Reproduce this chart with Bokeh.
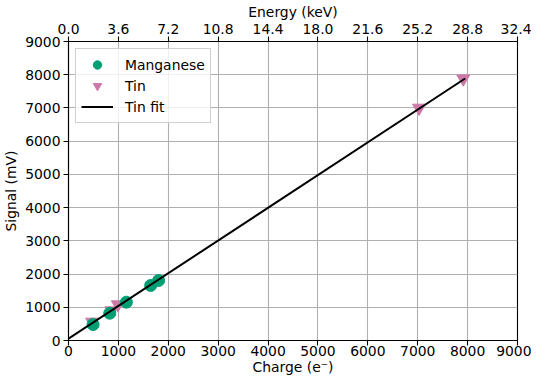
from bokeh.plotting import figure
from bokeh.models import LinearAxis, Range1d, FixedTicker, Legend, LegendItem
from bokeh.embed import file_html
from bokeh.resources import INLINE

# Data
mn_charge = [493, 827, 1160, 1647, 1807]
mn_signal = [480, 822, 1153, 1656, 1807]
sn_charge = [473, 860, 990, 7027, 7913]
sn_signal = [560, 900, 1080, 7000, 7880]
fit_slope = 0.985
fit_intercept = 55
fit_x = [0, 7950]
fit_y = [fit_slope * x + fit_intercept for x in fit_x]

x_ticks = list(range(0, 10000, 1000))
y_ticks = list(range(0, 10000, 1000))
ev_per_e = 3.6  # eV per electron
energy_labels = {t: f"{t * ev_per_e / 1000:.1f}" for t in x_ticks}

FONT = "DejaVu Sans"
FS = "13.9px"
TXT = "black"

p = figure(width=531, height=377, output_backend="svg", toolbar_location=None,
           x_range=Range1d(0, 9000), y_range=Range1d(0, 9000),
           min_border_left=67, min_border_right=14, min_border_top=41, min_border_bottom=37)
p.background_fill_color = "white"
p.border_fill_color = "white"
p.outline_line_color = "black"
p.outline_line_width = 1.1
p.outline_line_alpha = 1


def style_axis(ax, label, tick_out=5, lab_off=4, ax_off=4):
    ax.axis_label = label
    ax.axis_label_text_font = FONT
    ax.axis_label_text_font_size = FS
    ax.axis_label_text_font_style = "normal"
    ax.axis_label_text_color = TXT
    ax.major_label_text_font = FONT
    ax.major_label_text_font_size = FS
    ax.major_label_text_color = TXT
    ax.axis_line_color = "black"
    ax.axis_line_width = 1.1
    ax.major_tick_line_color = "black"
    ax.major_tick_line_width = 1.1
    ax.minor_tick_line_color = None
    ax.major_tick_out = tick_out
    ax.major_tick_in = 0
    ax.axis_label_standoff = ax_off
    ax.major_label_standoff = lab_off


style_axis(p.xaxis[0], "Charge (e⁻)", tick_out=5, lab_off=0, ax_off=0)
style_axis(p.yaxis[0], "Signal (mV)", tick_out=5, lab_off=3, ax_off=3)
p.xaxis[0].ticker = FixedTicker(ticks=x_ticks)
p.yaxis[0].ticker = FixedTicker(ticks=y_ticks)

top = LinearAxis(ticker=FixedTicker(ticks=x_ticks), major_label_overrides=energy_labels)
style_axis(top, "Energy (keV)", tick_out=5, lab_off=3, ax_off=1)
p.add_layout(top, "above")

p.xgrid.ticker = FixedTicker(ticks=x_ticks)
p.ygrid.ticker = FixedTicker(ticks=y_ticks)
p.grid.grid_line_color = "#b0b0b0"
p.grid.grid_line_width = 1.1
p.grid.grid_line_alpha = 1.0

sn = p.scatter(sn_charge, sn_signal, marker="inverted_triangle", size=13, fill_color="#CC79A7",
               line_color="#CC79A7")
mn = p.scatter(mn_charge, mn_signal, marker="circle", size=12, fill_color="#009E73",
               line_color="#009E73")
fit = p.line(fit_x, fit_y, line_color="black", line_width=2)

legend = Legend(items=[LegendItem(label="Manganese", renderers=[mn]),
                       LegendItem(label="Tin", renderers=[sn]),
                       LegendItem(label="Tin fit", renderers=[fit])],
                location="top_left")
legend.label_text_font = FONT
legend.label_text_font_size = FS
legend.label_text_color = TXT
legend.border_line_color = "#d0d0d0"
legend.border_line_width = 1
legend.border_line_alpha = 1
legend.background_fill_alpha = 0.8
legend.margin = 7
legend.padding = 5
legend.spacing = 0
legend.glyph_width = 32
legend.label_standoff = 12
legend.label_height = 19
legend.glyph_height = 21
p.add_layout(legend)

open("out.html", "w").write(file_html(p, INLINE))
